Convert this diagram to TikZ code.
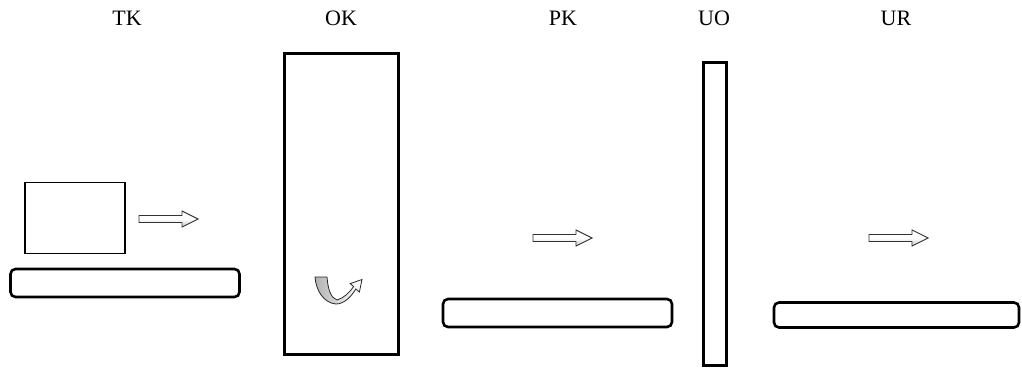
\documentclass[tikz,border=0pt]{standalone}
\usepackage{fontspec}
\setmainfont{Liberation Serif}
\begin{document}
\begin{tikzpicture}[x=1pt,y=-1pt,
  lbl/.style={font=\fontsize{22}{26}\selectfont, inner sep=0pt},
  tank/.style={draw, line width=1.2pt, inner sep=0pt, fill=white},
  wall/.style={draw, line width=2.6pt, inner sep=0pt},
  belt/.style={draw, line width=2.6pt, rounded corners=5pt, inner sep=0pt},
  flowline/.style={draw=black!80, line width=0.9pt, line join=miter,
    top color=white, bottom color=gray!45, middle color=white},
  flow/.pic={
    \path[flowline] (-29.5,-3.5) -- (13.5,-3.5) -- (13.5,-8) -- (29.5,0)
      -- (13.5,8) -- (13.5,3.5) -- (-29.5,3.5) -- cycle;
    \coordinate (-tip) at (29.5,0);
  }]
\useasboundingbox (0,0) rectangle (1022,369);

% section titles
\node[lbl] (tTK) at (127,18) {TK};
\node[lbl] (tOK) at (341,18) {OK};
\node[lbl] (tPK) at (563,18) {PK};
\node[lbl] (tUO) at (714,18) {UO};
\node[lbl] (tUR) at (896,18) {UR};

% TK: feeder and conveyor
\node[tank, minimum width=100pt, minimum height=71pt] (feed) at (75,218) {};
\node[belt, minimum width=229pt, minimum height=28pt] (beltTK) at (125,283) {};
\pic (aTK) at (168.5,219) {flow};

% OK: chamber with circulation
\node[wall, minimum width=114pt, minimum height=301pt] (chamber) at (341.5,204) {};
\begin{scope}[shift={(315,276)}]
  \draw[line width=0.8pt, black!85, left color=gray!60, right color=white]
    (0,1) -- (12,1)
    .. controls (13,14) and (16,22) .. (22,24)
    .. controls (29,22) and (35,16) .. (38.6,10.6)
    -- (35.2,7.6) -- (47,3.5) -- (44.4,16) -- (40.8,13)
    .. controls (36,21) and (29,28) .. (21,28)
    .. controls (9,27) and (1,15) .. cycle;
\end{scope}

% PK: conveyor
\pic (aPK) at (562.5,238) {flow};
\node[belt, minimum width=229pt, minimum height=28pt] (beltPK) at (557.5,313) {};

% UO: divider
\node[wall, minimum width=23pt, minimum height=303pt] (divider) at (715,214) {};

% UR: conveyor
\pic (aUR) at (898.5,238) {flow};
\node[belt, minimum width=245pt, minimum height=25pt] (beltUR) at (896.5,315) {};
\end{tikzpicture}
\end{document}
